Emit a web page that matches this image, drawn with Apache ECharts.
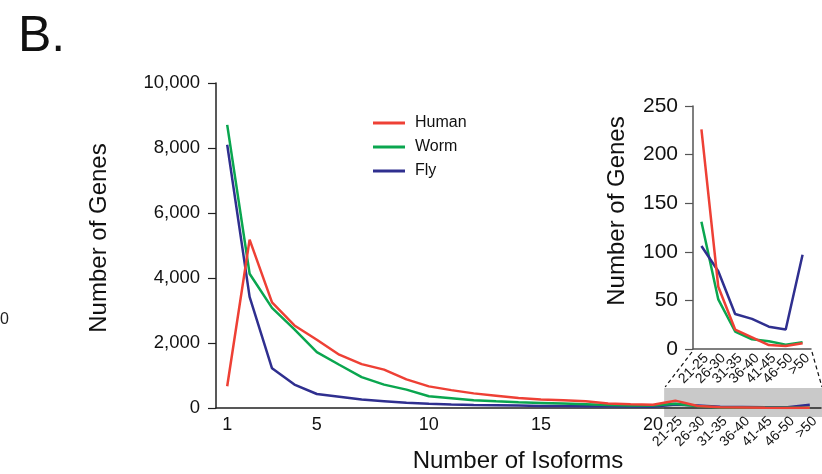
<!DOCTYPE html>
<html>
<head>
<meta charset="utf-8">
<script src="https://cdn.jsdelivr.net/npm/echarts@6/dist/echarts.min.js"></script>
<style>
  html, body { margin: 0; padding: 0; background: #fff; }
  #chart { width: 822px; height: 474px; }
</style>
</head>
<body>
<div id="chart"></div>
<script>
// isoform counts 1..20, then binned tail
var singles = ['1','2','3','4','5','6','7','8','9','10','11','12','13','14','15','16','17','18','19','20'];
var bins = ['21-25','26-30','31-35','36-40','41-45','46-50','>50'];
var shownTicks = ['1','5','10','15','20'];

var humanSingles = [670, 5180, 3250, 2540, 2100, 1640, 1350, 1180, 880, 665, 550, 450, 380, 310, 265, 235, 205, 140, 115, 100];
var wormSingles  = [8710, 4130, 3080, 2420, 1720, 1330, 950, 720, 565, 360, 300, 240, 205, 175, 155, 135, 115, 90, 80, 80];
var flySingles   = [8100, 3420, 1220, 720, 430, 345, 260, 210, 160, 130, 110, 95, 85, 75, 65, 60, 55, 50, 45, 40];

var humanBins = [226, 64, 20, 12, 4, 3, 6];
var wormBins  = [131, 51, 18, 10, 8, 4.5, 7];
var flyBins   = [106, 80, 36, 31, 23, 20, 97];

var colors = { Human: '#ee4035', Worm: '#0aa64f', Fly: '#2f2f8f' };
var font = '"Liberation Sans", Arial, Helvetica, sans-serif';

var isoforms = singles.concat(bins);

var chart = echarts.init(document.getElementById('chart'), null, { renderer: 'canvas' });

var mainGrid = { left: 216, right: 1, top: 83, bottom: 66 };
var insetGrid = { left: 693, right: 11, top: 106, bottom: 125 };

function mkLine(name, data, xi, yi) {
    return {
        name: name,
        type: 'line',
        xAxisIndex: xi,
        yAxisIndex: yi,
        data: data,
        showSymbol: false,
        symbol: 'none',
        lineStyle: { color: colors[name], width: 2.5 },
        itemStyle: { color: colors[name] },
        animation: false
    };
}

var option = {
    textStyle: { fontFamily: font, color: '#111' },
    animation: false,
    legend: {
        data: ['Human', 'Worm', 'Fly'],
        orient: 'vertical',
        left: 368,
        top: 110,
        icon: 'rect',
        itemWidth: 32,
        itemHeight: 3,
        itemGap: 8,
        textStyle: { fontSize: 16, color: '#111', padding: [0, 0, 0, 5] }
    },
    grid: [mainGrid, insetGrid],
    xAxis: [
        {
            type: 'category',
            gridIndex: 0,
            data: isoforms,
            position: 'bottom',
            axisLine: { lineStyle: { color: '#222', width: 1.5 } },
            axisTick: { interval: 0, length: 8, lineStyle: { color: '#222', width: 1.2 } },
            axisLabel: {
                interval: 0,
                fontSize: 18,
                color: '#111',
                margin: 8,
                formatter: function (v) { return shownTicks.indexOf(v) >= 0 ? v : ''; }
            },
            splitLine: { show: false }
        },
        {
            type: 'category',
            gridIndex: 0,
            data: isoforms,
            position: 'bottom',
            axisLine: { show: false },
            axisTick: { show: false },
            axisLabel: {
                interval: 0,
                rotate: 45,
                verticalAlign: 'top',
                fontSize: 14,
                color: '#111',
                margin: 6,
                formatter: function (v) { return bins.indexOf(v) >= 0 ? v : ''; }
            },
            splitLine: { show: false }
        },
        {
            type: 'category',
            gridIndex: 1,
            data: bins,
            axisLine: { lineStyle: { color: '#555', width: 1.5 } },
            axisTick: { inside: true, interval: 0, length: 6, lineStyle: { color: '#555', width: 1.2 } },
            axisLabel: { interval: 0, rotate: 45, verticalAlign: 'top', fontSize: 14, color: '#111', margin: 2 },
            splitLine: { show: false }
        }
    ],
    yAxis: [
        {
            type: 'value',
            gridIndex: 0,
            min: 0,
            max: 10000,
            interval: 2000,
            axisLine: { show: true, lineStyle: { color: '#222', width: 1.5 } },
            axisTick: { show: true, length: 8, lineStyle: { color: '#222', width: 1.2 } },
            axisLabel: {
                fontSize: 18.5,
                color: '#111',
                margin: 16,
                formatter: function (v) { return v.toLocaleString('en-US'); }
            },
            splitLine: { show: false }
        },
        {
            type: 'value',
            gridIndex: 1,
            min: 0,
            max: 250,
            interval: 50,
            axisLine: { show: true, lineStyle: { color: '#555', width: 1.5 } },
            axisTick: { show: true, length: 8, lineStyle: { color: '#555', width: 1.2 } },
            axisLabel: { fontSize: 21, color: '#111', margin: 15 },
            splitLine: { show: false }
        }
    ],
    series: [
        mkLine('Fly', flySingles.concat(flyBins), 0, 0),
        mkLine('Worm', wormSingles.concat(wormBins), 0, 0),
        mkLine('Human', humanSingles.concat(humanBins), 0, 0),
        mkLine('Worm', wormBins, 2, 1),
        mkLine('Fly', flyBins, 2, 1),
        mkLine('Human', humanBins, 2, 1)
    ]
};

chart.setOption(option);

// zoom box: from the boundary after "20" to the end of the axis, plus dashed connectors
var x20 = chart.convertToPixel({ xAxisIndex: 0 }, '20');
var x21 = chart.convertToPixel({ xAxisIndex: 0 }, bins[0]);
var boxLeft = (x20 + x21) / 2;
var axisY = chart.convertToPixel({ yAxisIndex: 0 }, 0);
var boxRight = 822 - mainGrid.right;
var boxTop = axisY - 20;
var boxBottom = axisY + 9;
var insetLeft = insetGrid.left;
var insetRight = 822 - insetGrid.right;
var insetBottom = 474 - insetGrid.bottom;

chart.setOption({
    graphic: [
        {
            type: 'rect',
            z: -1,
            silent: true,
            shape: { x: boxLeft, y: boxTop, width: boxRight - boxLeft + 2, height: boxBottom - boxTop },
            style: { fill: '#c9c9c9' }
        },
        {
            type: 'line',
            silent: true,
            shape: { x1: insetLeft - 1, y1: insetBottom + 3, x2: boxLeft + 1, y2: boxTop - 1 },
            style: { stroke: '#111', lineWidth: 1.2, lineDash: [4, 3] }
        },
        {
            type: 'line',
            silent: true,
            shape: { x1: insetRight + 1, y1: insetBottom + 3, x2: boxRight + 1, y2: boxTop - 1 },
            style: { stroke: '#111', lineWidth: 1.2, lineDash: [4, 3] }
        },
        {
            type: 'text',
            left: 18,
            top: 12,
            style: { text: 'B.', font: '50px ' + font, fill: '#111' }
        },
        {
            type: 'text',
            x: 99,
            y: 238,
            rotation: Math.PI / 2,
            style: { text: 'Number of Genes', font: '24px ' + font, fill: '#111', align: 'center', verticalAlign: 'middle' }
        },
        {
            type: 'text',
            x: 617,
            y: 211,
            rotation: Math.PI / 2,
            style: { text: 'Number of Genes', font: '24px ' + font, fill: '#111', align: 'center', verticalAlign: 'middle' }
        },
        {
            type: 'text',
            x: 518,
            y: 461,
            style: { text: 'Number of Isoforms', font: '24px ' + font, fill: '#111', align: 'center', verticalAlign: 'middle' }
        },
        {
            type: 'text',
            x: 0,
            y: 320,
            style: {
                text: '0', font: '16px ' + font, fill: '#222', verticalAlign: 'middle',
                shadowColor: 'rgba(0,0,0,0.12)', shadowBlur: 24
            }
        }
    ]
});
</script>
</body>
</html>
